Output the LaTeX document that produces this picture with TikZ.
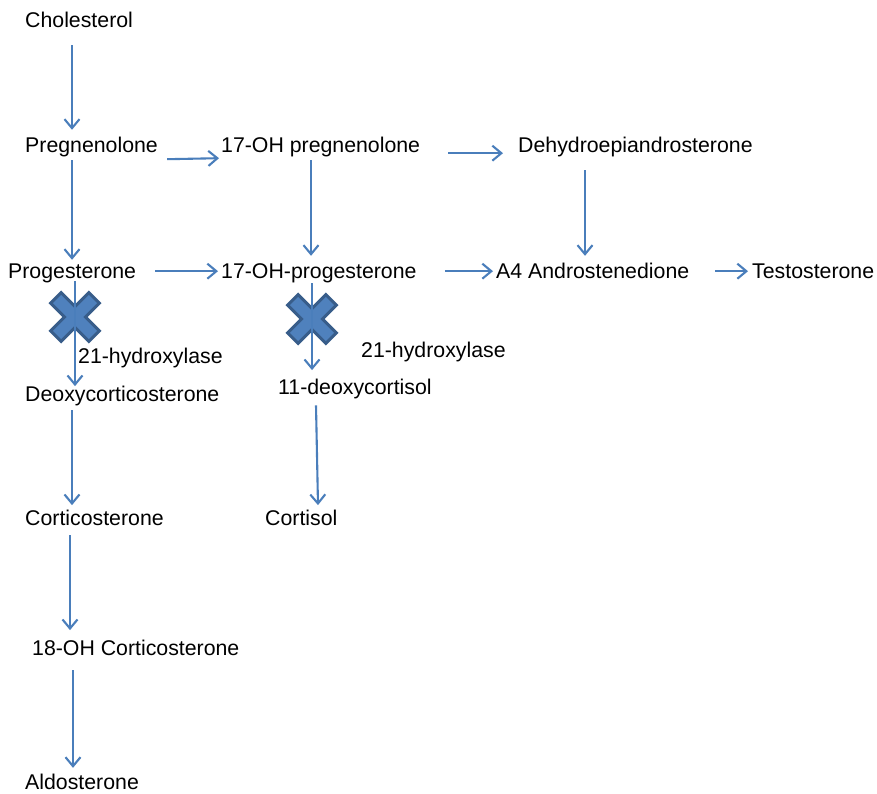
\documentclass[tikz,border=0pt]{standalone}
\usepackage{fontspec}
\setmainfont{Liberation Sans}
\usepackage{tikz}
\usetikzlibrary{arrows.meta}
\definecolor{pathblue}{HTML}{4A7EBB}
\definecolor{crossfill}{HTML}{4F81BD}
\definecolor{crossedge}{HTML}{385D8A}

\begin{document}
\begin{tikzpicture}[x=1pt,y=-1pt,
  every node/.style={font=\fontsize{21.3}{25}\selectfont,inner sep=0pt,
    text height=15.3pt,text depth=4.5pt,anchor=base west},
  arr/.style={draw=pathblue,line width=2.1pt,-{Straight Barb[length=9pt,width=15pt]}},
  hydroxcross/.pic={
    \draw[fill=crossfill,draw=crossedge,line width=3pt,line join=miter,rotate=45]
      (7.5,7.5) -- (27,7.5) -- (27,-7.5) -- (7.5,-7.5) -- (7.5,-27) -- (-7.5,-27)
      -- (-7.5,-7.5) -- (-27,-7.5) -- (-27,7.5) -- (-7.5,7.5) -- (-7.5,27) -- (7.5,27) -- cycle;
  }]
  \useasboundingbox (0,0) rectangle (877,794);

  % steroid names
  \node (chol) at (25,27.6) {Cholesterol};
  \node (preg) at (25,152.6) {Pregnenolone};
  \node (ohpreg) at (221,152.6) {17-OH pregnenolone};
  \node (dhea) at (518,152.6) {Dehydroepiandrosterone};
  \node (prog) at (8,278.6) {Progesterone};
  \node (ohprog) at (221,278.6) {17-OH-progesterone};
  \node (andro) at (496,278.6) {A4 Androstenedione};
  \node (testo) at (752,278.6) {Testosterone};
  \node (hyda) at (78,363.6) {21-hydroxylase};
  \node (doc) at (25,401.6) {Deoxycorticosterone};
  \node (hydb) at (361,357.6) {21-hydroxylase};
  \node (deoxcort) at (278,394.6) {11-deoxycortisol};
  \node (cortico) at (25,525.6) {Corticosterone};
  \node (cortisol) at (265,525.6) {Cortisol};
  \node (ohcort) at (32,655.6) {18-OH Corticosterone};
  \node[text depth=1pt] (aldo) at (25,789.5) {Aldosterone};

  % blocked steps
  \pic at (75,317) {hydroxcross};
  \pic at (312,319) {hydroxcross};

  % vertical steps
  \draw[arr] ([shift={(47,12.9)}]chol.south west) -- ([shift={(47,-7.3)}]preg.north west);
  \draw[arr] ([shift={(47,3)}]preg.south west) -- ([shift={(64,-3.3)}]prog.north west);
  \draw[arr] ([shift={(90,3)}]ohpreg.south west) -- ([shift={(90,-7.3)}]ohprog.north west);
  \draw[arr] ([shift={(67,13)}]dhea.south west) -- ([shift={(89,-7.3)}]andro.north west);
  \draw[arr] ([shift={(67,-2)}]prog.south west) -- ([shift={(50,0)}]doc.north west);
  \draw[arr] ([shift={(91,0)}]ohprog.south west) -- ([shift={(34,-9)}]deoxcort.north west);
  \draw[arr] ([shift={(38,6)}]deoxcort.south west) -- ([shift={(53,-5)}]cortisol.north west);
  \draw[arr] ([shift={(47,4)}]doc.south west) -- ([shift={(47,-5)}]cortico.north west);
  \draw[arr] ([shift={(45,5)}]cortico.south west) -- ([shift={(38,-10)}]ohcort.north west);
  \draw[arr] ([shift={(41,10)}]ohcort.south west) -- ([shift={(48,-6.2)}]aldo.north west);

  % horizontal steps
  \draw[arr] ([shift={(9,12)}]preg.east) -- ([shift={(-2,11)}]ohpreg.west);
  \draw[arr] ([shift={(28,6)}]ohpreg.east) -- ([shift={(-15,6)}]dhea.west);
  \draw[arr] ([shift={(19,-2)}]prog.east) -- ([shift={(-3,-2)}]ohprog.west);
  \draw[arr] ([shift={(28,-2)}]ohprog.east) -- ([shift={(-3,-2)}]andro.west);
  \draw[arr] ([shift={(26,-2)}]andro.east) -- ([shift={(-4,-2)}]testo.west);
\end{tikzpicture}
\end{document}
